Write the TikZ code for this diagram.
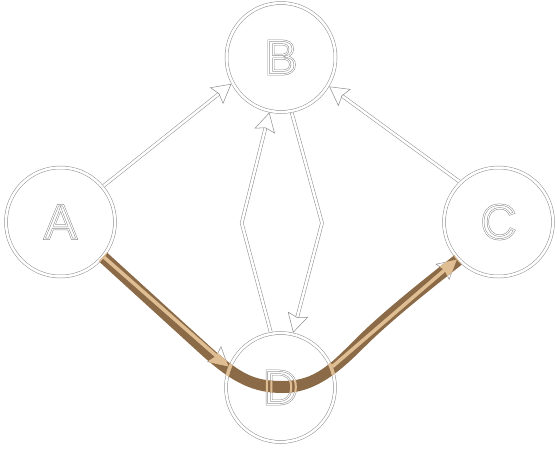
\documentclass[tikz,border=0pt]{standalone}
\usepackage{fontspec}
\newfontfamily\lfont{Liberation Sans}
\usetikzlibrary{arrows.meta}
\definecolor{lgray}{gray}{0.55}
\definecolor{hbrown}{HTML}{8B6B47}
\definecolor{htan}{HTML}{E0BE94}
\newcommand\outl[3]{{\color{#1}\special{pdf:literal direct #2 w 1 Tr}#3\special{pdf:literal direct 0 Tr}}}
\newcommand\nodelabel[1]{\lfont\fontsize{49}{49}\selectfont\rlap{\outl{lgray}{2}{#1}}\outl{white}{1}{#1}}
\tikzset{
  vert/.style={circle, draw=lgray, double=white, line width=0.5pt, double distance=2.5pt,
    minimum size=109pt, inner sep=0pt, outer sep=1.75pt},
  lnk/.style={draw=lgray, double=white, line width=0.5pt, double distance=2.5pt,
    -{Stealth[open,length=19pt,width=21pt,inset=3pt]}},
  tanedge/.style={draw=htan, double=htan, line width=0.5pt, double distance=2.5pt,
    -{Stealth[length=19pt,width=21pt,inset=3pt]}},
  tanring/.style={draw=htan, double=htan, line width=0.5pt, double distance=2.5pt},
  band/.style={fill=hbrown}
}
\begin{document}
\begin{tikzpicture}[x=1pt,y=-1pt]
\useasboundingbox (0,0) rectangle (557,448);
\node[vert] (B) at (281,57.5) {\nodelabel{B}};
\node[vert] (A) at (60.5,222) {\nodelabel{A}};
\node[vert] (C) at (498.5,222) {\nodelabel{C}};
\node[vert] (D) at (280.5,387.5) {\nodelabel{D}};
\coordinate (k1) at (241.7,223);
\coordinate (k2) at (322,223);
\draw[lnk] (A.40) -- (B.208);
\draw[lnk] (C.134) -- (B.-31);
\draw[lnk] (D.100) -- (k1) -- (B.258);
\draw[lnk] (B.-79) -- (k2) -- (D.77);
\draw[lnk] (A.-39) -- (D.158);
\draw[lnk] (D.22) -- (C.222);
\def\bandpath{(107.05,252.56) -- (209.05,345.56) .. controls (242.05,375.56) and (255,381) .. (283,381)
  .. controls (315,381) and (330.76,363.76) .. (355.76,338.76)
  .. controls (380.76,313.76) and (416.28,285.29) .. (454.28,255.29)
  -- (461.72,264.71) .. controls (423.72,294.71) and (389.24,322.24) .. (364.24,347.24)
  .. controls (339.24,372.24) and (315,393) .. (283,393)
  .. controls (255,393) and (233.95,384.44) .. (200.95,354.44)
  -- (98.95,261.44) -- cycle}
\path[band] \bandpath;
\begin{scope}
  \clip \bandpath;
  \draw[tanring] (A.center) circle[radius=54.5];
  \draw[tanring] (D.center) circle[radius=54.5];
  \draw[tanring] (C.center) circle[radius=54.5];
  \draw[tanedge] (A.-39) -- (D.158);
  \draw[tanedge] (D.22) -- (C.222);
  \node (Dt) at (D.center) {\lfont\fontsize{49}{49}\selectfont\outl{htan}{2}{D}};
\end{scope}
\end{tikzpicture}
\end{document}
